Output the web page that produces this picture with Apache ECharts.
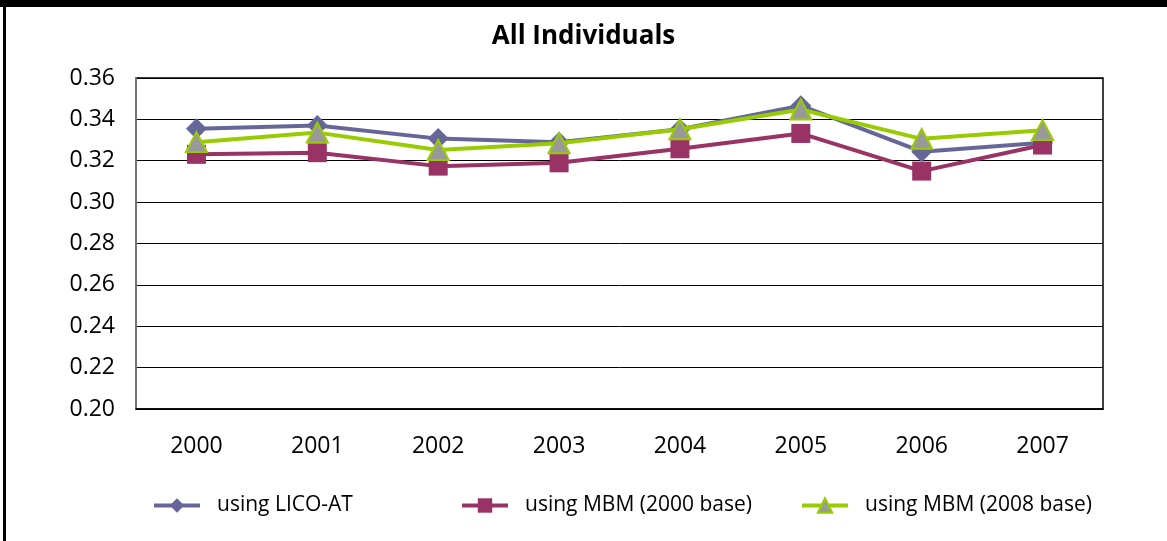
<!DOCTYPE html>
<html>
<head>
<meta charset="utf-8">
<style>
  html, body { margin: 0; padding: 0; background: #fff; }
  #chart { width: 1167px; height: 541px; }
</style>
<script src="https://cdn.jsdelivr.net/npm/echarts@6/dist/echarts.min.js"></script>
</head>
<body>
<div id="chart"></div>
<script>
// Years on the category axis
const years = ['2000', '2001', '2002', '2003', '2004', '2005', '2006', '2007'];

// Index values for each poverty measure
const licoAT = [0.3355, 0.3370, 0.3307, 0.3290, 0.3352, 0.3466, 0.3244, 0.3287];
const mbm2000 = [0.3231, 0.3239, 0.3174, 0.3190, 0.3258, 0.3332, 0.3150, 0.3276];
const mbm2008 = [0.3290, 0.3336, 0.3252, 0.3285, 0.3352, 0.3448, 0.3306, 0.3348];

const seriesNames = ['using LICO-AT', 'using MBM (2000 base)', 'using MBM (2008 base)'];

const FONT = '"Open Sans", "Liberation Sans", sans-serif';

const chart = echarts.init(document.getElementById('chart'), null, { renderer: 'canvas' });

// one legend block per series so each entry sits in its own slot
const legendLefts = [147, 455, 795];
const legends = seriesNames.map((name, i) => ({
  data: [name],
  left: legendLefts[i],
  top: 490,
  itemWidth: 46,
  itemHeight: 18,
  lineStyle: { width: 4 },
  textStyle: { fontFamily: FONT, fontSize: 21, color: '#000', padding: [0, 0, 0, 12] }
}));

chart.setOption({
  backgroundColor: '#ffffff',
  animation: false,
  title: {
    text: 'All Individuals',
    left: 'center',
    top: 19,
    textStyle: { fontFamily: FONT, fontSize: 26, fontWeight: 'bold', color: '#000' }
  },
  graphic: [
    // frame band along the top and rule on the left
    { type: 'rect', shape: { x: 0, y: 0, width: 1167, height: 7 }, style: { fill: '#000' } },
    { type: 'rect', shape: { x: 3, y: 0, width: 3, height: 541 }, style: { fill: '#000' } }
  ],
  grid: {
    left: 136, right: 64, top: 78, bottom: 132,
    show: true, borderColor: '#000', borderWidth: 1.5, backgroundColor: 'transparent'
  },
  legend: legends,
  xAxis: {
    type: 'category',
    data: years,
    boundaryGap: true,
    axisLine: { show: true, lineStyle: { color: '#000', width: 1.5 } },
    axisTick: { show: false },
    axisLabel: { fontFamily: FONT, fontSize: 23, color: '#000', margin: 26 }
  },
  yAxis: {
    type: 'value',
    min: 0.20,
    max: 0.36,
    interval: 0.02,
    axisLine: { show: true, lineStyle: { color: '#888', width: 1.5 } },
    axisTick: { show: false },
    axisLabel: {
      fontFamily: FONT, fontSize: 23, color: '#000', margin: 21,
      formatter: v => v.toFixed(2)
    },
    splitLine: { show: true, lineStyle: { color: '#000', width: 1 } }
  },
  series: [
    {
      name: seriesNames[0],
      type: 'line',
      data: licoAT,
      symbol: 'diamond',
      symbolSize: [21, 21],
      lineStyle: { color: '#666699', width: 4 },
      itemStyle: { color: '#666699' },
      z: 2
    },
    {
      name: seriesNames[1],
      type: 'line',
      data: mbm2000,
      symbol: 'rect',
      symbolSize: [19, 19],
      lineStyle: { color: '#993366', width: 4 },
      itemStyle: { color: '#993366' },
      z: 3
    },
    {
      name: seriesNames[2],
      type: 'line',
      data: mbm2008,
      symbol: 'triangle',
      symbolSize: [21, 20],
      lineStyle: { color: '#99cc00', width: 4 },
      itemStyle: { color: '#999999', borderColor: '#99cc00', borderWidth: 2 },
      z: 4
    }
  ]
});
</script>
</body>
</html>
